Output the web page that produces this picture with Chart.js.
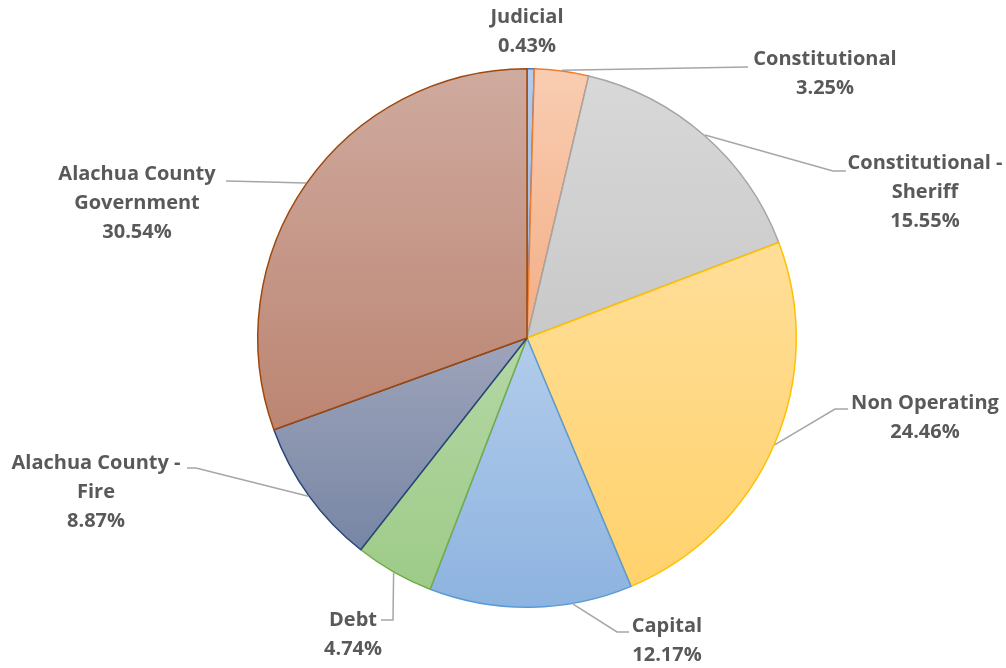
<!DOCTYPE html>
<html>
<head>
<meta charset="utf-8">
<script src="https://cdn.jsdelivr.net/npm/chart.js@4.4.1/dist/chart.umd.min.js"></script>
<style>
  html, body { margin: 0; padding: 0; background: #fff; }
  #wrap { width: 1006px; height: 668px; position: relative; }
</style>
</head>
<body>
<div id="wrap"><canvas id="pie" width="1006" height="668"></canvas></div>
<script>
// data
const labels = ['Judicial', 'Constitutional', 'Constitutional -\nSheriff', 'Non Operating',
                'Capital', 'Debt', 'Alachua County -\nFire', 'Alachua County\nGovernment'];
const values = [0.43, 3.25, 15.55, 24.46, 12.17, 4.74, 8.87, 30.54];

// colours: gradient top, gradient bottom, border
const topColors    = ['#B4CCEC', '#F9CDB2', '#D8D8D8', '#FFDE98', '#B2CCEB', '#B4D7A5', '#9EA4BA', '#CFAA9F'];
const bottomColors = ['#93B4E0', '#F3AE86', '#C9C9C9', '#FFD26C', '#8DB3E0', '#9ECB88', '#7786A5', '#BC8572'];
const borderColors = ['#4472C4', '#ED7D31', '#A5A5A5', '#FFC000', '#5B9BD5', '#70AD47', '#264478', '#9E480E'];

// label placement: text centre x, first line y, leader elbow and end next to text
const labelPos = [
  { x: 527, y: 17 },
  { x: 825, y: 59, elbow: [748, 67], end: [748, 67] },
  { x: 925, y: 163, elbow: [833, 171], end: [846, 171] },
  { x: 925, y: 403, elbow: [835, 409], end: [848, 409] },
  { x: 667, y: 626, elbow: [617, 632], end: [629, 632], shift: -9 },
  { x: 353, y: 620, elbow: [393, 620], end: [381, 620] },
  { x: 96,  y: 463, elbow: [196, 468], end: [187, 468] },
  { x: 137, y: 174, elbow: [228, 181], end: [226, 181] }
];

const total = values.reduce((a, b) => a + b, 0);

function sliceAngles(i) {
  let before = 0;
  for (let k = 0; k < i; k++) before += values[k];
  const start = -Math.PI / 2 + 2 * Math.PI * before / total;
  const end = start + 2 * Math.PI * values[i] / total;
  return [start, end];
}

function pieGeom(chart) {
  const a = chart.chartArea;
  return {
    cx: (a.left + a.right) / 2,
    cy: (a.top + a.bottom) / 2,
    r: Math.min(a.right - a.left, a.bottom - a.top) / 2
  };
}

function sliceFill(context) {
  const chart = context.chart;
  const i = context.dataIndex;
  if (!chart.chartArea) return bottomColors[i];
  const g = pieGeom(chart);
  const [s, e] = sliceAngles(i);
  let ys = [g.cy, g.cy + g.r * Math.sin(s), g.cy + g.r * Math.sin(e)];
  // slice crossing the top or bottom of the circle
  [-Math.PI / 2, Math.PI / 2, 3 * Math.PI / 2].forEach(t => {
    if (t >= s && t <= e) ys.push(g.cy + g.r * Math.sin(t));
  });
  const y0 = Math.min(...ys), y1 = Math.max(...ys);
  const grad = chart.ctx.createLinearGradient(0, y0, 0, y1);
  grad.addColorStop(0, topColors[i]);
  grad.addColorStop(1, bottomColors[i]);
  return grad;
}

const labelPlugin = {
  id: 'pieLabels',
  afterDatasetsDraw(chart) {
    const ctx = chart.ctx;
    const g = pieGeom(chart);
    ctx.save();
    // leader lines
    ctx.strokeStyle = '#A6A6A6';
    ctx.lineWidth = 1.5;
    labelPos.forEach((p, i) => {
      if (!p.elbow) return;
      const [s, e] = sliceAngles(i);
      const mid = (s + e) / 2 + (p.shift || 0) * Math.PI / 180;
      const ax = g.cx + g.r * Math.cos(mid);
      const ay = g.cy + g.r * Math.sin(mid);
      ctx.beginPath();
      ctx.moveTo(ax, ay);
      ctx.lineTo(p.elbow[0], p.elbow[1]);
      ctx.lineTo(p.end[0], p.end[1]);
      ctx.stroke();
    });
    // texts
    ctx.fillStyle = '#595959';
    ctx.font = 'bold 20px "Open Sans", Lato, sans-serif';
    ctx.textAlign = 'center';
    ctx.textBaseline = 'middle';
    labelPos.forEach((p, i) => {
      const lines = labels[i].split('\n');
      lines.push(values[i].toFixed(2) + '%');
      lines.forEach((t, k) => ctx.fillText(t, p.x, p.y + k * 29));
    });
    ctx.restore();
  }
};

new Chart(document.getElementById('pie').getContext('2d'), {
  type: 'pie',
  data: {
    labels: labels,
    datasets: [{
      data: values,
      backgroundColor: sliceFill,
      borderColor: borderColors,
      borderWidth: 1.5
    }]
  },
  options: {
    responsive: false,
    animation: false,
    layout: { padding: { left: 257, right: 209, top: 68, bottom: 60 } },
    plugins: {
      legend: { display: false },
      tooltip: { enabled: false }
    }
  },
  plugins: [labelPlugin]
});
</script>
</body>
</html>
